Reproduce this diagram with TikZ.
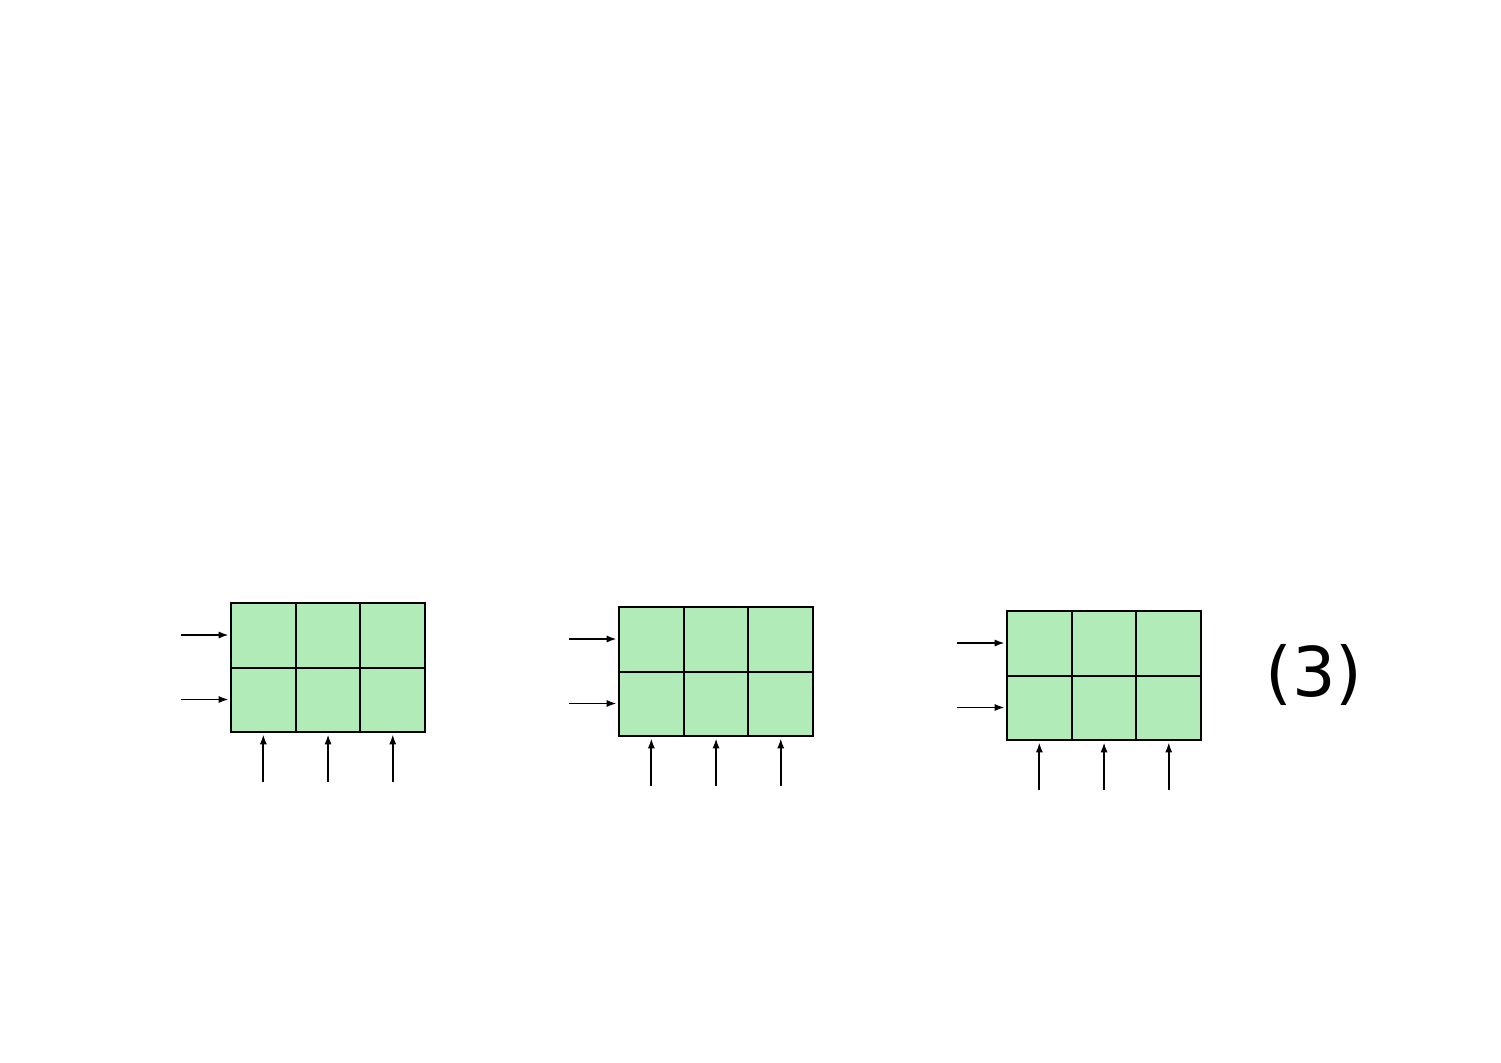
\documentclass[tikz,border=0pt]{standalone}
\usepackage{fontspec}
\setmainfont{DejaVu Sans}
\usetikzlibrary{arrows.meta}
\definecolor{cellgreen}{HTML}{B1EBB7}
\tikzset{
  cell/.style={draw=black, fill=cellgreen, line width=1pt, minimum width=32.35pt, minimum height=32.25pt, inner sep=0pt, outer sep=0pt},
  feed/.style={-{Latex[length=5pt,width=3.6pt]}, line width=0.9pt, black, shorten >=1.2pt}
}
\begin{document}
\begin{tikzpicture}[x=0.5pt,y=-0.5pt]
\useasboundingbox (0,0) rectangle (1501,1062);
\foreach \g in {0,1,2}{
  \foreach \r in {0,1}{
    \foreach \c in {0,1,2}{
      \node[cell] (c\g-\r-\c) at ({231+388*\g+64.7*(\c+0.5)},{603+4*\g+64.5*(\r+0.5)}) {};
    }
  }
  \foreach \r in {0,1}{
    \coordinate (h\g-\r) at ({181+388*\g},{635+4*\g+64.5*\r});
    \draw[feed] (h\g-\r) -- (c\g-\r-0.west |- h\g-\r);
  }
  \foreach \c in {0,1,2}{
    \coordinate (v\g-\c) at ({231+388*\g+64.7*(\c+0.5)},{782+4*\g});
    \draw[feed] (v\g-\c) -- (c\g-1-\c.south);
  }
}
\node[font=\fontsize{34.3pt}{40pt}\selectfont, inner sep=0pt] (lbl) at (1314,675) {(3)};
\end{tikzpicture}
\end{document}
